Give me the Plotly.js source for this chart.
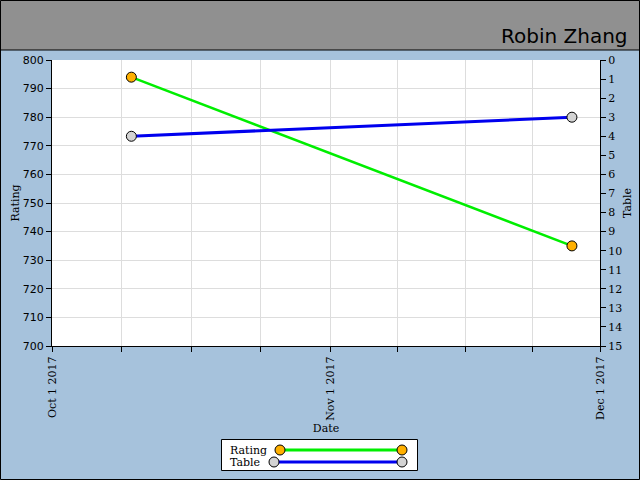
<!DOCTYPE html>
<html><head><meta charset="utf-8">
<script src="https://cdn.plot.ly/plotly-3.0.1.min.js"></script>
<style>html,body{margin:0;padding:0;background:#a6c2dc;}#c{width:640px;height:480px;}</style>
</head><body><div id="c"></div>
<script>
const ratingDates = ['2017-10-09 20:00', '2017-11-27 21:00'];
const ratingValues = [794, 735];
const tableDates = ['2017-10-09 20:00', '2017-11-27 21:00'];
const tableValues = [4, 3];
const xTickVals = ['2017-10-01', '2017-10-08 18:00', '2017-10-16 12:00', '2017-10-24 06:00', '2017-11-01', '2017-11-08 12:00', '2017-11-16', '2017-11-23 12:00', '2017-12-01'];
const xTickText = ['Oct 1 2017', '', '', '', 'Nov 1 2017', '', '', '', 'Dec 1 2017'];
const seriesNames = ['Rating', 'Table'];
const playerName = 'Robin Zhang';

const serif = 'DejaVu Serif, serif';
const lineColors = ['#00ee00', '#0000ee'];
const markerColors = ['#ffb000', '#d3d3d3'];
const traces = [
  {x: ratingDates, y: ratingValues, name: seriesNames[0], type: 'scatter', mode: 'lines+markers',
   line: {color: lineColors[0], width: 2.5},
   marker: {color: markerColors[0], size: 10, line: {color: '#000', width: 1}}, yaxis: 'y'},
  {x: tableDates, y: tableValues, name: seriesNames[1], type: 'scatter', mode: 'lines+markers',
   line: {color: lineColors[1], width: 3},
   marker: {color: markerColors[1], size: 10, line: {color: '#000', width: 1}}, yaxis: 'y2'}
];
const W = 548, H = 286;
function px(x){return (x-52)/W;}
function py(y){return (346-y)/H;}
const shapes = [
  {type: 'rect', xref: 'paper', yref: 'paper', x0: px(-2), x1: px(642), y0: py(50), y1: py(-2),
   fillcolor: '#909090', line: {color: '#000', width: 1}, layer: 'below'},
  {type: 'rect', xref: 'paper', yref: 'paper', x0: px(0.5), x1: px(639.5), y0: py(479.5), y1: py(0.5),
   fillcolor: 'rgba(0,0,0,0)', line: {color: '#000', width: 1}, layer: 'above'},
  {type: 'rect', xref: 'paper', yref: 'paper', x0: px(221.5), x1: px(417.5), y0: py(470.5), y1: py(439.5),
   fillcolor: '#ffffff', line: {color: '#000', width: 1}, layer: 'above'}
];
const annotations = [
  {text: playerName, xref: 'paper', yref: 'paper', x: px(630), y: py(36), xanchor: 'right', yanchor: 'middle',
   showarrow: false, font: {family: 'DejaVu Sans, sans-serif', size: 20, color: '#000'}}
];
const legRows = [{y: 450, x0: 280, x1: 402}, {y: 462, x0: 274, x1: 402}];
legRows.forEach((r, i) => {
  shapes.push({type: 'line', xref: 'paper', yref: 'paper', x0: px(r.x0), x1: px(r.x1), y0: py(r.y), y1: py(r.y),
    line: {color: lineColors[i], width: 3}, layer: 'above'});
  [r.x0, r.x1].forEach(cx => shapes.push({type: 'circle', xref: 'paper', yref: 'paper',
    x0: px(cx - 5), x1: px(cx + 5), y0: py(r.y + 5), y1: py(r.y - 5),
    fillcolor: markerColors[i], line: {color: '#000', width: 1}, layer: 'above'}));
  annotations.push({text: seriesNames[i], xref: 'paper', yref: 'paper', x: px(228), y: py(r.y), xanchor: 'left',
    yanchor: 'middle', showarrow: false, font: {family: serif, size: 11, color: '#000'}});
});
const layout = {
  width: 640, height: 480,
  margin: {l: 52, r: 40, t: 60, b: 134, autoexpand: false},
  paper_bgcolor: '#a6c2dc', plot_bgcolor: '#ffffff',
  showlegend: false,
  xaxis: {type: 'date', range: ['2017-10-01', '2017-12-01'], tickvals: xTickVals, ticktext: xTickText,
    tickangle: -90, ticks: 'outside', ticklen: 5, tickcolor: '#000', showline: true, linecolor: '#000', linewidth: 1,
    showgrid: true, gridcolor: '#dddddd', zeroline: false, tickfont: {family: serif, size: 11, color: '#000'},
    title: {text: 'Date', font: {family: serif, size: 11, color: '#000'}, standoff: 4}},
  yaxis: {range: [700, 800], dtick: 10, ticks: 'outside', ticklen: 5, tickcolor: '#000', showline: true,
    linecolor: '#000', linewidth: 1, gridcolor: '#dddddd', zeroline: false,
    tickfont: {family: 'DejaVu Sans, sans-serif', size: 11, color: '#000'},
    title: {text: 'Rating', font: {family: serif, size: 11, color: '#000'}, standoff: 0}},
  yaxis2: {range: [15, 0], dtick: 1, overlaying: 'y', side: 'right', ticks: 'outside', ticklen: 5, tickcolor: '#000',
    showline: true, linecolor: '#000', linewidth: 1, showgrid: false, zeroline: false,
    tickfont: {family: serif, size: 11, color: '#000'},
    title: {text: 'Table', font: {family: serif, size: 11, color: '#000'}, standoff: 2}},
  shapes: shapes,
  annotations: annotations
};
Plotly.newPlot('c', traces, layout, {displayModeBar: false, staticPlot: true});
</script></body></html>
